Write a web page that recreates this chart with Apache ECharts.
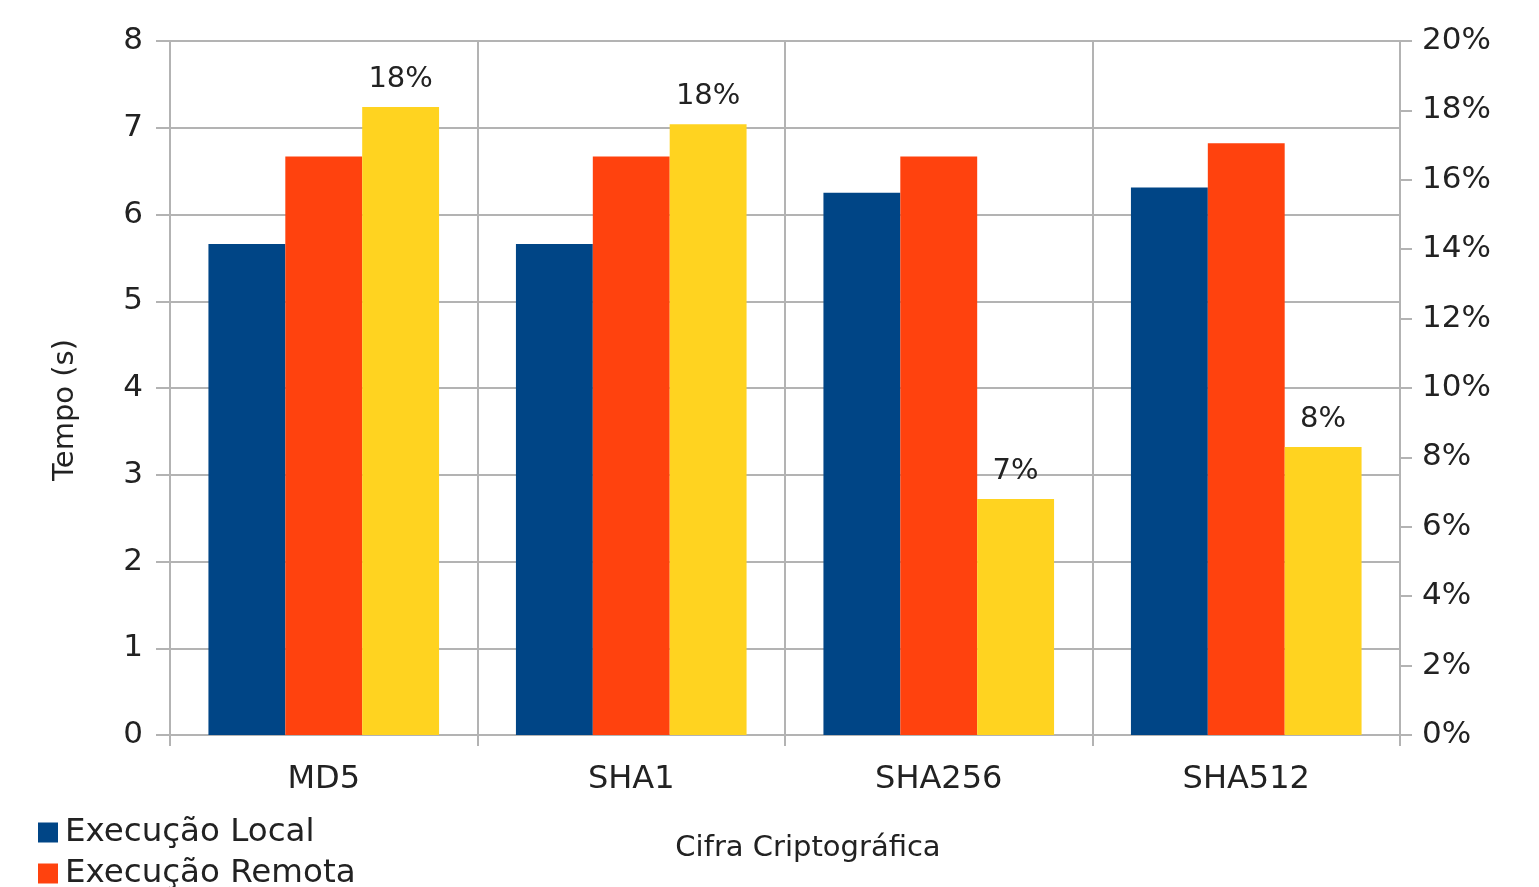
<!DOCTYPE html>
<html>
<head>
<meta charset="utf-8">
<script src="https://cdn.jsdelivr.net/npm/echarts@6/dist/echarts.min.js"></script>
<style>html,body{margin:0;padding:0;background:#fff}#c{width:1539px;height:887px}</style>
</head>
<body>
<div id="c"></div>
<script>
const categories = ['MD5', 'SHA1', 'SHA256', 'SHA512'];
const localTimes = [5.66, 5.66, 6.25, 6.31];
const remoteTimes = [6.67, 6.67, 6.67, 6.82];
const overheadPct = [18.1, 17.6, 6.8, 8.3];
const leftTicks = {min: 0, max: 8, interval: 1};
const rightTicks = {min: 0, max: 20, interval: 2};
const seriesNames = ['Execução Local', 'Execução Remota', 'Diferença (%)'];

const FONT = 'DejaVu Sans';
const TXT = '#222222';
const GRID = '#b3b3b3';

const chart = echarts.init(document.getElementById('c'));
chart.setOption({
  animation: false,
  backgroundColor: '#ffffff',
  textStyle: {fontFamily: FONT},
  grid: {left: 170, right: 139, top: 41, bottom: 152, containLabel: false},
  title: {
    text: 'Cifra Criptográfica', left: 803, top: 829, textAlign: 'center',
    textStyle: {fontFamily: FONT, fontSize: 29, fontWeight: 'normal', color: TXT}
  },
  legend: {
    orient: 'vertical', left: 33, top: 811, height: 200, itemWidth: 20, itemHeight: 20, itemGap: 8,
    icon: 'rect', data: seriesNames,
    textStyle: {fontFamily: FONT, fontSize: 32.5, color: TXT, padding: [0, 0, 0, 2]}
  },
  xAxis: {
    type: 'category', data: categories,
    axisLine: {show: true, lineStyle: {color: GRID, width: 2}},
    axisTick: {show: true, length: 11, lineStyle: {color: GRID, width: 2}},
    axisLabel: {fontFamily: FONT, fontSize: 32, color: TXT, margin: 29},
    splitLine: {show: true, lineStyle: {color: GRID, width: 2}}
  },
  yAxis: [
    {
      type: 'value', min: leftTicks.min, max: leftTicks.max, interval: leftTicks.interval,
      name: 'Tempo (s)', nameLocation: 'middle', nameGap: 90, nameRotate: 90,
      nameTextStyle: {fontFamily: FONT, fontSize: 29, color: TXT, padding: [0, 44, 0, 0]},
      axisLine: {show: true, lineStyle: {color: GRID, width: 2}},
      axisTick: {show: true, length: 14, lineStyle: {color: GRID, width: 2}},
      axisLabel: {fontFamily: FONT, fontSize: 31, color: TXT, margin: 27},
      splitLine: {show: true, lineStyle: {color: GRID, width: 2}}
    },
    {
      type: 'value', min: rightTicks.min, max: rightTicks.max, interval: rightTicks.interval,
      position: 'right',
      axisLine: {show: true, lineStyle: {color: GRID, width: 2}},
      axisTick: {show: true, length: 12, lineStyle: {color: GRID, width: 2}},
      axisLabel: {fontFamily: FONT, fontSize: 31, color: TXT, margin: 22, formatter: '{value}%'},
      splitLine: {show: false}
    }
  ],
  series: [
    {name: seriesNames[0], type: 'bar', data: localTimes, yAxisIndex: 0,
     itemStyle: {color: '#004586'}, barGap: '0%', barCategoryGap: '25%'},
    {name: seriesNames[1], type: 'bar', data: remoteTimes, yAxisIndex: 0,
     itemStyle: {color: '#ff420e'}, barGap: '0%', barCategoryGap: '25%'},
    {name: seriesNames[2], type: 'bar', data: overheadPct, yAxisIndex: 1,
     itemStyle: {color: '#ffd320'}, barGap: '0%', barCategoryGap: '25%',
     label: {show: true, position: 'top', distance: 13, fontFamily: FONT, fontSize: 29, color: TXT,
       formatter: p => Math.round(p.value) + '%'}}
  ]
});
</script>
</body>
</html>
